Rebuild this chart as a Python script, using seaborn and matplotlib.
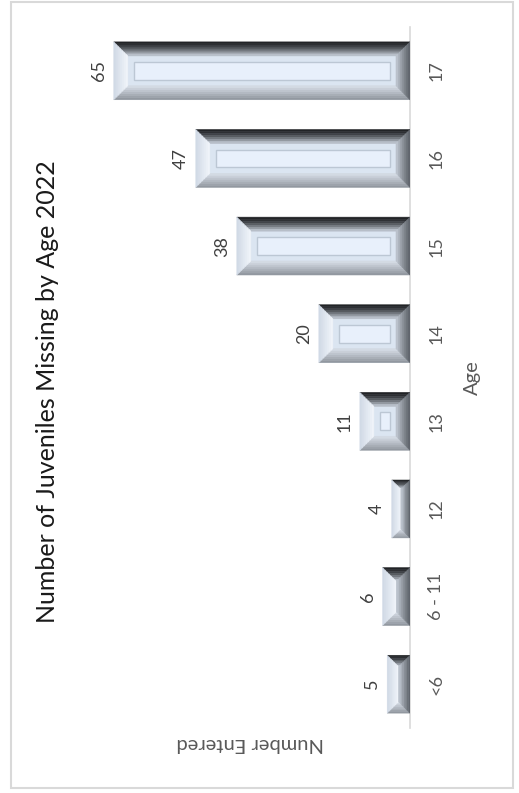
import numpy as np
import pandas as pd
import matplotlib
matplotlib.use("Agg")
import matplotlib.pyplot as plt
from matplotlib.patches import Polygon, Rectangle
from matplotlib.colors import to_rgb
import seaborn as sns

# data
ages = ["<6", "6 - 11", "12", "13", "14", "15", "16", "17"]
counts = [5, 6, 4, 11, 20, 38, 47, 65]

title = "Number of Juveniles Missing by Age 2022"
x_title = "Age"
y_title = "Number Entered"

df = pd.DataFrame({"age": ages, "count": counts})

sns.set_style("white")
plt.rcParams["font.family"] = ["Lato", "DejaVu Sans"]

W, H = 519, 793
fig = plt.figure(figsize=(W / 100, H / 100), dpi=100)
# plot area (chart is drawn turned 90 degrees, like the original)
ax = fig.add_axes([91 / W, 1 - 728 / H, 319 / W, 701 / H])

sns.barplot(data=df, y="age", x="count", order=ages[::-1], orient="h",
            color="#dbe5f1", saturation=1, width=0.66, ax=ax, errorbar=None)

ax.set_xlim(70, 0)
ax.set_ylim(len(ages) - 0.5, -0.5)

# axes look
for s in ["top", "left", "bottom"]:
    ax.spines[s].set_visible(False)
ax.spines["right"].set_color("#d9d9d9")
ax.spines["right"].set_linewidth(1.2)
ax.set_xticks([])
ax.yaxis.tick_right()
ax.yaxis.set_label_position("right")
ax.tick_params(axis="y", length=0, pad=13, labelsize=13, labelcolor="#595959")
for t in ax.get_yticklabels():
    t.set_rotation(90)
    t.set_va("center")
ax.set_ylabel(x_title, rotation=90, fontsize=14.5, color="#595959", labelpad=14)
ax.set_xlabel(y_title, rotation=180, fontsize=14.5, color="#595959", labelpad=5)


def mix(c1, c2, f):
    a, b = np.array(to_rgb(c1)), np.array(to_rgb(c2))
    return tuple(a + (b - a) * f)


# bevel shading on each bar (done in pixel space, then back to data coords)
inv = ax.transData.inverted()
n = 7
shades = {
    "top": ("#1e2023", "#cad2dd", 1.6),
    "left": ("#cfd8e4", "#f1f5fb", 1.0),
    "bottom": ("#8c929a", "#d9e0e9", 1.0),
    "right": ("#5c6168", "#c3cad4", 1.2),
}
for p in ax.containers[0]:
    x0, y0 = p.get_x(), p.get_y()
    (ax_, ay_), (bx_, by_) = ax.transData.transform(
        [(x0, y0), (x0 + p.get_width(), y0 + p.get_height())])
    l, r = min(ax_, bx_), max(ax_, bx_)
    b, t = min(ay_, by_), max(ay_, by_)
    bev = min(14, (r - l) / 2, (t - b) / 2)
    for k in range(n):
        t0, t1 = bev * k / n, bev * (k + 1) / n
        fr = (k + 0.5) / n
        rings = {
            "top": [(l + t0, t - t0), (r - t0, t - t0), (r - t1, t - t1), (l + t1, t - t1)],
            "bottom": [(l + t0, b + t0), (r - t0, b + t0), (r - t1, b + t1), (l + t1, b + t1)],
            "left": [(l + t0, b + t0), (l + t0, t - t0), (l + t1, t - t1), (l + t1, b + t1)],
            "right": [(r - t0, b + t0), (r - t0, t - t0), (r - t1, t - t1), (r - t1, b + t1)],
        }
        for side, pts in rings.items():
            c1, c2, g = shades[side]
            col = mix(c1, c2, fr ** g)
            ax.add_patch(Polygon(inv.transform(pts), closed=True, facecolor=col,
                                 edgecolor=col, lw=0.4, zorder=3))
    # inner panel
    ins = 20
    if (r - l) > 2 * ins + 4 and (t - b) > 2 * ins + 4:
        (px0, py0), (px1, py1) = inv.transform([(l + ins, b + ins), (r - ins, t - ins)])
        ax.add_patch(Rectangle((px0, py0), px1 - px0, py1 - py0, facecolor="#e8f0fb",
                               edgecolor="#bcc7d4", lw=1.0, zorder=4))

# value labels
ax.bar_label(ax.containers[0], labels=[str(v) for v in counts[::-1]], padding=5,
             rotation=90, fontsize=13, color="#404040")

# title
fig.text(48 / W, 1 - 392 / H, title, rotation=90, ha="center", va="center",
         fontsize=18, color="#1a1a1a")

# outer chart border
fig.patches.append(Rectangle((11 / W, 1 - 788 / H), 502 / W, 786 / H,
                             transform=fig.transFigure, fill=False,
                             edgecolor="#d9d9d9", lw=1.5))

fig.savefig("out.png", dpi=100)
